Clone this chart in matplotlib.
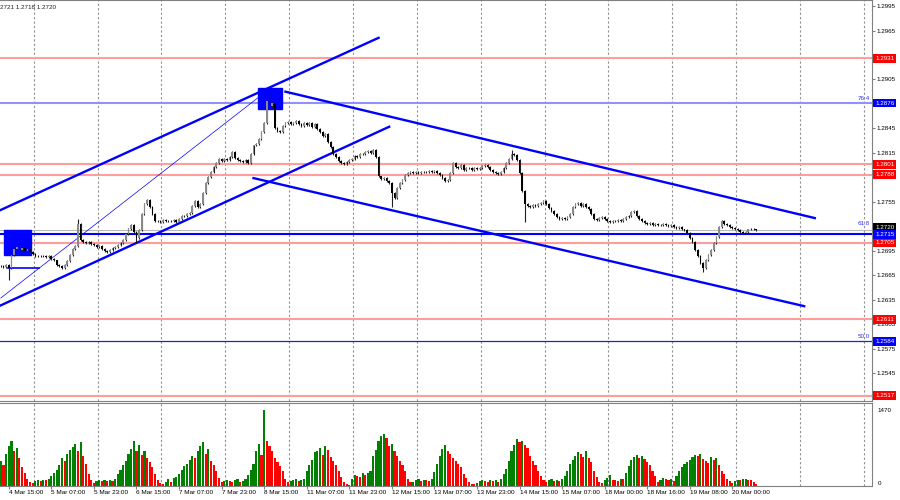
import matplotlib
matplotlib.use("Agg")
import matplotlib.pyplot as plt
import matplotlib.transforms as mtransforms
from matplotlib.patches import Rectangle
import numpy as np

plt.rcParams["font.family"] = ["Liberation Sans", "DejaVu Sans"]

# hourly closes, in pips above 1.2600
closes_pips = [
    76, 75, 77, 74, 90, 97, 99, 96, 98, 95, 97, 94, 91, 89, 88, 89,
    88, 87, 88, 85, 83, 78, 76, 74, 77, 82, 90, 97, 101, 128, 108, 106,
    104, 106, 103, 102, 100, 101, 97, 95, 93, 96, 98, 100, 102, 104, 108, 116,
    122, 126, 118, 110, 120, 140, 152, 157, 148, 140, 132, 131, 130, 133, 131, 132,
    131, 133, 130, 134, 138, 137, 140, 141, 150, 156, 148, 152, 166, 178, 185, 192,
    198, 203, 208, 205, 207, 206, 210, 216, 209, 206, 205, 204, 206, 203, 214, 224,
    226, 232, 240, 252, 278, 272, 276, 246, 242, 240, 248, 251, 253, 250, 252, 254,
    250, 248, 251, 249, 252, 247, 250, 244, 240, 236, 238, 228, 222, 214, 210, 205,
    203, 201, 204, 206, 208, 211, 210, 213, 214, 216, 217, 215, 218, 210, 186, 183,
    184, 180, 178, 166, 160, 172, 178, 182, 188, 190, 191, 190, 192, 190, 191, 192,
    192, 193, 191, 193, 190, 188, 184, 180, 182, 190, 203, 198, 196, 200, 194, 197,
    196, 194, 197, 195, 196, 199, 200, 198, 194, 191, 190, 189, 191, 196, 203, 208,
    214, 212, 206, 190, 168, 152, 150, 148, 151, 150, 152, 153, 156, 152, 147, 144,
    140, 136, 134, 135, 134, 136, 140, 148, 152, 154, 150, 152, 148, 146, 140, 134,
    133, 135, 136, 134, 131, 130, 132, 131, 133, 131, 134, 136, 138, 142, 144, 138,
    134, 131, 129, 128, 129, 127, 128, 126, 127, 128, 126, 125, 126, 124, 123, 124,
    121, 120, 117, 110, 106, 96, 88, 80, 74, 84, 90, 96, 104, 112, 124, 131,
    128, 126, 124, 123, 122, 120, 118, 117, 118, 121, 122, 121, 120,
]

# long wicks (bar index -> price)
spike_highs = {29: 1.2734, 100: 1.2884, 101: 1.2887, 192: 1.2818}
spike_lows = {3: 1.2659, 51: 1.2705, 147: 1.2748, 197: 1.2730, 264: 1.2669}

volumes = [
    500, 420, 650, 800, 900, 700, 760, 560, 380, 260, 140, 90, 70, 110, 120, 100,
    130, 120, 140, 200, 260, 330, 420, 560, 500, 650, 720, 780, 850, 700, 880, 600,
    450, 240, 130, 70, 100, 130, 110, 120, 100, 130, 110, 140, 250, 330, 420, 500,
    640, 750, 900, 700, 820, 620, 700, 560, 480, 380, 250, 120, 60, 40, 90, 150,
    80, 170, 190, 250, 320, 410, 450, 520, 600, 560, 700, 800, 880, 650, 750, 500,
    420, 300, 160, 90, 110, 130, 100, 80, 120, 140, 90, 110, 150, 230, 330, 450,
    700, 850, 620, 1530, 900, 800, 700, 560, 480, 400, 300, 150, 90, 110, 120, 140,
    100, 130, 150, 300, 430, 520, 680, 700, 760, 620, 800, 720, 580, 500, 420, 300,
    180, 90, 40, 30, 150, 230, 200, 180, 270, 220, 260, 300, 600, 720, 900, 1000,
    1050, 960, 800, 850, 700, 600, 500, 420, 300, 150, 80, 90, 120, 150, 110, 130,
    120, 100, 140, 280, 450, 600, 750, 820, 700, 640, 560, 500, 450, 380, 250, 160,
    90, 50, 40, 70, 110, 130, 100, 90, 120, 110, 130, 90, 140, 240, 350, 500,
    700, 820, 950, 880, 900, 820, 760, 600, 500, 420, 300, 200, 120, 80, 120, 150,
    110, 130, 100, 150, 200, 300, 450, 520, 600, 680, 640, 580, 700, 560, 480, 300,
    180, 90, 60, 130, 160, 220, 130, 120, 100, 150, 140, 260, 400, 520, 580, 620,
    560, 600, 540, 480, 420, 300, 200, 80, 120, 160, 140, 130, 150, 110, 200, 300,
    380, 440, 480, 520, 580, 620, 600, 640, 550, 500, 460, 580, 520, 560, 420, 300,
    240, 150, 100, 60, 110, 130, 120, 140, 150, 130, 120, 80, 40,
]

time_labels = ["4 Mar 15:00", "5 Mar 07:00", "5 Mar 23:00", "6 Mar 15:00",
               "7 Mar 07:00", "7 Mar 23:00", "8 Mar 15:00", "11 Mar 07:00",
               "11 Mar 23:00", "12 Mar 15:00", "13 Mar 07:00", "13 Mar 23:00",
               "14 Mar 15:00", "15 Mar 07:00", "18 Mar 00:00", "18 Mar 16:00",
               "19 Mar 08:00", "20 Mar 00:00"]
first_label_bar = 3
bars_per_label = 16

red_levels = [1.2931, 1.2801, 1.2788, 1.2705, 1.2611, 1.2517]
blue_levels = [1.2876, 1.2715, 1.2584]
fib_texts = [(1.2876, "76.4", 5), (1.2715, "61.8", 11), (1.2584, "50.0", 5)]
last_price = 1.2720
header = "2721 1.2718 1.2720"
price_ticks = np.arange(1.2515, 1.2996, 0.0030)

# analyst drawings, (bar, price) end points
channel_lines = [
    ((0, 1.2745), (142, 1.2956)),
    ((0, 1.2628), (146, 1.2847)),
    ((107, 1.2890), (306, 1.2735)),
    ((95, 1.2784), (302, 1.2627)),
]
fib_trend = ((0, 1.2637), (99.6, 1.2890))
fib_base = ((2.6, 1.2674), (14.3, 1.2674))
marker_boxes = [((1.1, 1.2690), (11.3, 1.2720)), ((96.6, 1.2869), (105.6, 1.2895))]

closes = 1.26 + np.array(closes_pips) / 10000
opens = np.r_[closes[0], closes[:-1]]
bars = np.arange(len(closes))
highs = np.maximum(opens, closes) + 0.00012
lows = np.minimum(opens, closes) - 0.00012
for i, v in spike_highs.items():
    highs[i] = v
for i, v in spike_lows.items():
    lows[i] = v

fig = plt.figure(figsize=(9, 5), dpi=100)
fig.patch.set_facecolor("white")
axw = 872 / 900
ax = fig.add_axes([0, 1 - 401 / 500, axw, 401 / 500])
axv = fig.add_axes([0, 1 - 486 / 500, axw, 83 / 500])

grid_pos = np.arange(12.4, 330, 24)
for a in (ax, axv):
    a.set_xlim(-0.3, 327.5)
    for g in grid_pos:
        a.axvline(g, color="#909090", lw=0.8, ls=(0, (2, 2)), zorder=0)
    for s in a.spines.values():
        s.set_color("#808080")
    a.spines["left"].set_visible(False)

ax.set_ylim(1.25107, 1.30024)

# horizontal levels
for lv in red_levels:
    ax.axhline(lv, color="#ff9c9c", lw=1.5, zorder=1)
ax.axhline(blue_levels[0], color="#9090ff", lw=1.5, zorder=1)
ax.axhline(blue_levels[1], color="#0000ff", lw=1.5, zorder=1)
ax.axhline(blue_levels[2], color="#2020e0", lw=0.9, zorder=1)
ax.axhline(last_price, color="#b8b8b8", lw=0.8, zorder=1)

# marker boxes
for (x0, y0), (x1, y1) in marker_boxes:
    ax.add_patch(Rectangle((x0, y0), x1 - x0, y1 - y0, color="#0000ff", zorder=2))

# trend lines
for (x0, y0), (x1, y1) in channel_lines:
    ax.plot([x0, x1], [y0, y1], color="#0000ff", lw=1.7, zorder=2)
ax.plot([fib_trend[0][0], fib_trend[1][0]], [fib_trend[0][1], fib_trend[1][1]],
        color="#0000ff", lw=0.5, zorder=2)
ax.plot([fib_base[0][0], fib_base[1][0]], [fib_base[0][1], fib_base[1][1]],
        color="#0000ff", lw=1.2, zorder=2)

# candles
up = closes >= opens
ax.vlines(bars, lows, highs, color="#202020", lw=0.8, zorder=3)
body_lo = np.minimum(opens, closes)
body_h = np.maximum(np.abs(closes - opens), 0.00005)
ax.bar(bars, body_h, bottom=body_lo, width=0.66,
       color=np.where(up, "#8a8a8a", "#000000"), linewidth=0, zorder=4)

# right price axis; labels sitting under a level box are not shown
boxed = red_levels + blue_levels + [last_price]
ax.yaxis.tick_right()
ax.set_yticks(price_ticks)
ax.set_yticklabels(["" if min(abs(t - b) for b in boxed) < 0.0005 else f"{t:.4f}"
                    for t in price_ticks])
ax.tick_params(axis="y", labelsize=4.5, length=2, pad=1.5, color="#808080")
ax.tick_params(axis="x", bottom=False, labelbottom=False)

tr = mtransforms.blended_transform_factory(ax.transAxes, ax.transData)
lab_x = 1 + 3 / 872


def price_box(y, fc, zo, shift=0.0):
    ax.text(lab_x, y + shift, f"{y:.4f}", transform=tr,
            color="white", fontsize=4.5, va="center", ha="left", clip_on=False,
            zorder=zo, bbox=dict(boxstyle="square,pad=0.3", fc=fc, ec="none"))


# bid label, mostly hidden under the 1.2715 box
price_box(last_price, "#000000", 5, shift=0.0003)
for lv in red_levels:
    price_box(lv, "#ff0000", 6)
for lv in blue_levels:
    price_box(lv, "#0000ff", 6)

for lv, txt, off in fib_texts:
    ax.annotate(txt, (0.998, lv), xycoords=tr, xytext=(0, off * 0.72),
                textcoords="offset points", color="#3030ff", fontsize=4.5,
                ha="right", va="center")

ax.text(0.0, 0.988, header, transform=ax.transAxes, fontsize=4.5,
        ha="left", va="top", color="#202020")

# volumes
vol_colors = ["#008000" if i == 0 or v >= volumes[i - 1] else "#ff0000"
              for i, v in enumerate(volumes)]
axv.bar(bars, volumes, width=0.8, color=vol_colors, linewidth=0, zorder=2)
axv.set_ylim(0, 1670)
axv.yaxis.tick_right()
axv.set_yticks([0, 1470])
axv.set_yticklabels(["0", "1470"])
for lab in axv.get_yticklabels():
    lab.set_va("bottom")
axv.tick_params(axis="y", labelsize=4.5, length=0, pad=4)

xt = first_label_bar + bars_per_label * np.arange(len(time_labels))
axv.set_xticks(xt)
axv.set_xticklabels(time_labels, ha="left")
axv.tick_params(axis="x", labelsize=4.6, length=2, pad=1, color="#808080")

fig.savefig("out.png", dpi=100)
